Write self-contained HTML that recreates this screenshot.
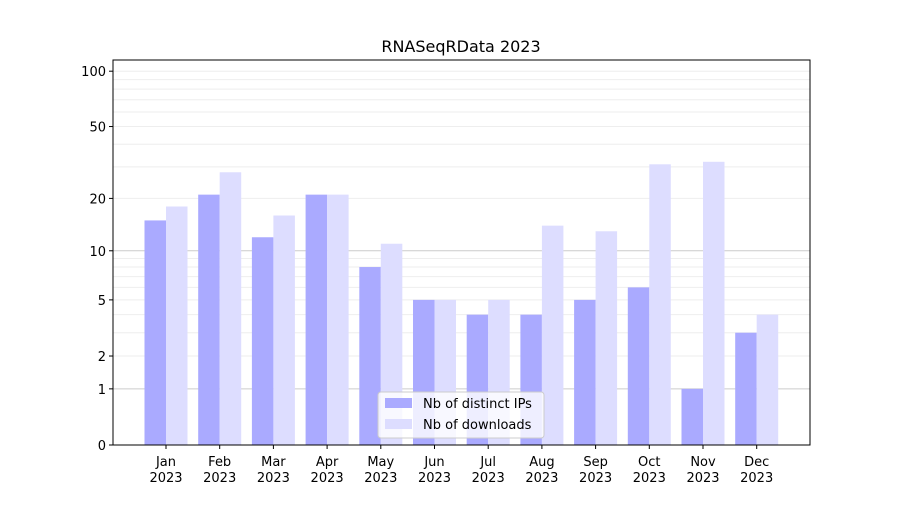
<!DOCTYPE html>
<html><head><meta charset="utf-8"><style>
body{margin:0;background:#fff;font-family:"Liberation Sans","DejaVu Sans",sans-serif;}
</style></head><body>
<svg width="900" height="500" xmlns="http://www.w3.org/2000/svg" font-family="DejaVu Sans, Liberation Sans, sans-serif">
<rect width="900" height="500" fill="#fff"/>
<g id="grid"></g>
<g id="bars"></g>
<g id="axes"></g>
<text x="461" y="52" text-anchor="middle" font-size="16">RNASeqRData 2023</text>
<g>
<rect x="378" y="392" width="166" height="46" fill="#fff" fill-opacity="0.8" stroke="#ccc" rx="3"/>
<rect x="385" y="398" width="27" height="10" fill="#aaaaff"/>
<text x="423" y="408" font-size="13">Nb of distinct IPs</text>
<rect x="385" y="419" width="27" height="10" fill="#ddddff"/>
<text x="423" y="429" font-size="13">Nb of downloads</text>
</g>
</svg>
<script>
const months=["Jan","Feb","Mar","Apr","May","Jun","Jul","Aug","Sep","Oct","Nov","Dec"];
const ips=[15,21,12,21,8,5,4,4,5,6,1,3];
const downloads=[18,28,16,21,11,5,5,14,13,31,32,4];
const tickValues=[0,1,2,5,10,20,50,100];
const minorValues=[2,3,4,5,6,7,8,9,20,30,40,50,60,70,80,90,100];
const NS="http://www.w3.org/2000/svg";
const L=113,R=810,T=60,B=445;
function y(v){return B-186.5*Math.log10(1+v);}
function x(i){return 166+i*53.7;}
function mk(tag,a,p){const e=document.createElementNS(NS,tag);for(const k in a)e.setAttribute(k,a[k]);p.appendChild(e);return e;}
const grid=document.getElementById('grid'),bars=document.getElementById('bars'),axes=document.getElementById('axes');
minorValues.forEach(v=>{const l=mk('line',{x1:L,x2:R,y1:y(v),y2:y(v),stroke:'#eee','stroke-width':1},grid);

});
[1,10].forEach(v=>{const l=mk('line',{x1:L,x2:R,y1:y(v),y2:y(v),stroke:'#ccc','stroke-width':1},grid);

});
months.forEach((m,i)=>{
 const b1=mk('rect',{x:x(i)-21.5,y:y(ips[i]),width:21.5,height:B-y(ips[i]),fill:'#aaaaff'},bars);
 
 
 const b2=mk('rect',{x:x(i),y:y(downloads[i]),width:21.5,height:B-y(downloads[i]),fill:'#ddddff'},bars);
 
 
 mk('line',{x1:x(i),x2:x(i),y1:B,y2:B+4,stroke:'#000'},axes);
 const t=mk('text',{x:x(i),y:B+21,'text-anchor':'middle','font-size':13},axes);t.textContent=m;
 
 
 const t2=mk('text',{x:x(i),y:B+37,'text-anchor':'middle','font-size':13},axes);t2.textContent='2023';
 
 
});
tickValues.forEach(v=>{
 mk('line',{x1:L-4,x2:L,y1:y(v),y2:y(v),stroke:'#000'},axes);
 const t=mk('text',{x:L-7,y:y(v)+5,'text-anchor':'end','font-size':13},axes);t.textContent=v;
 
 
});
const f=mk('rect',{x:L,y:T,width:R-L,height:B-T,fill:'none',stroke:'#000','stroke-width':1},axes);


</script>
</body></html>
